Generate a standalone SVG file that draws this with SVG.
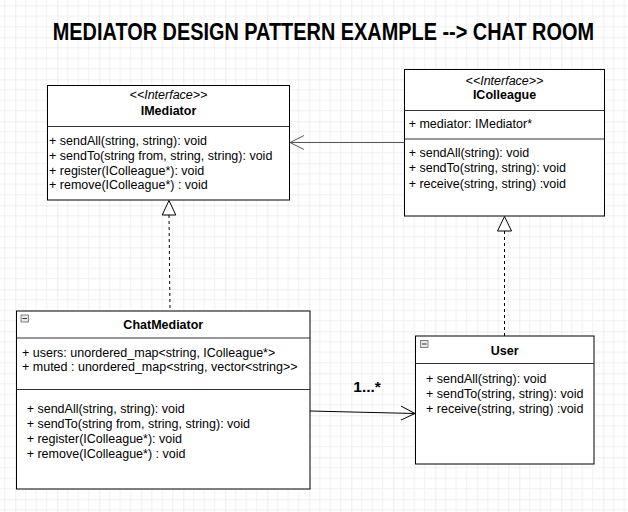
<svg xmlns="http://www.w3.org/2000/svg" width="628" height="512" viewBox="0 0 628 512">
<defs>
<pattern id="grid" x="15.3" y="37.3" width="42" height="42" patternUnits="userSpaceOnUse">
<rect width="42" height="42" fill="#ffffff"/>
<path d="M10.5 0V42M21 0V42M31.5 0V42M0 10.5H42M0 21H42M0 31.5H42" stroke="#f1f1f1" stroke-width="1" fill="none"/>
<path d="M0 0V42M0 0H42" stroke="#dedede" stroke-width="1" fill="none"/>
</pattern>
<marker id="open" viewBox="0 0 16 16" markerWidth="16" markerHeight="16" refX="15" refY="8" orient="auto" markerUnits="userSpaceOnUse">
<path d="M1 1 L15 8 L1 15" fill="none" stroke="context-stroke" stroke-width="1"/>
</marker>
</defs>
<style>
.box{fill:#ffffff;stroke:#000000;stroke-width:1}
.div{stroke:#333333;stroke-width:1;fill:none}
.t{font-family:"Liberation Sans",Arial,sans-serif;font-size:12.5px;fill:#000000}
.b{font-weight:bold}
.i{font-style:italic}
.c{text-anchor:middle}
.dash{stroke:#000000;stroke-width:1;stroke-dasharray:3 3;fill:none}
.tri{fill:#ffffff;stroke:#000000;stroke-width:1}
.icon{fill:#e8e8e8;stroke:#666666;stroke-width:0.8}
</style>
<rect width="628" height="512" fill="url(#grid)"/>
<text transform="scale(1,1.18)" x="52.8" y="33.9" style="font-family:'Liberation Sans',Arial,sans-serif;font-size:19.9px;font-weight:bold;fill:#000">MEDIATOR DESIGN PATTERN EXAMPLE --&gt; CHAT ROOM</text>

<g id="IMediator">
<rect class="box" x="47.5" y="85.5" width="242" height="114.5"/>
<line class="div" x1="47.5" y1="126.5" x2="289.5" y2="126.5"/>
<text class="t i c" x="168.5" y="99">&lt;&lt;Interface&gt;&gt;</text>
<text class="t b c" x="168.5" y="115">IMediator</text>
<text class="t" x="49" y="145">+ sendAll(string, string): void</text>
<text class="t" x="49" y="159.5">+ sendTo(string from, string, string): void</text>
<text class="t" x="49" y="174.5">+ register(IColleague*): void</text>
<text class="t" x="49" y="189">+ remove(IColleague*) : void</text>
</g>

<g id="IColleague">
<rect class="box" x="404.5" y="69.5" width="200" height="146.5"/>
<line class="div" x1="404.5" y1="110.5" x2="604.5" y2="110.5"/>
<line class="div" x1="404.5" y1="139" x2="604.5" y2="139"/>
<text class="t i c" x="504.5" y="85">&lt;&lt;Interface&gt;&gt;</text>
<text class="t b c" x="504.5" y="99">IColleague</text>
<text class="t" x="408.7" y="128.3">+ mediator: IMediator*</text>
<text class="t" x="408.7" y="156.5">+ sendAll(string): void</text>
<text class="t" x="408.7" y="172">+ sendTo(string, string): void</text>
<text class="t" x="408.7" y="187.5">+ receive(string, string) :void</text>
</g>

<g id="ChatMediator">
<rect class="box" x="16.5" y="311" width="293.5" height="178"/>
<line class="div" x1="16.5" y1="338" x2="310" y2="338"/>
<line class="div" x1="16.5" y1="389.5" x2="310" y2="389.5"/>
<rect class="icon" x="21" y="315" width="7.5" height="7"/>
<line x1="22.5" y1="318.5" x2="27" y2="318.5" stroke="#333" stroke-width="1"/>
<text class="t b c" x="163.3" y="328.5">ChatMediator</text>
<text class="t" x="22" y="356.5">+ users: unordered_map&lt;string, IColleague*&gt;</text>
<text class="t" x="22" y="371">+ muted : unordered_map&lt;string, vector&lt;string&gt;&gt;</text>
<text class="t" x="26.7" y="412.5">+ sendAll(string, string): void</text>
<text class="t" x="26.7" y="427.5">+ sendTo(string from, string, string): void</text>
<text class="t" x="26.7" y="443">+ register(IColleague*): void</text>
<text class="t" x="26.7" y="458">+ remove(IColleague*) : void</text>
</g>

<g id="User">
<rect class="box" x="415.5" y="336" width="178.5" height="128"/>
<line class="div" x1="415.5" y1="363.5" x2="594" y2="363.5"/>
<rect class="icon" x="420.5" y="340.5" width="7.5" height="7"/>
<line x1="422" y1="344" x2="426.5" y2="344" stroke="#333" stroke-width="1"/>
<text class="t b c" x="504.7" y="355">User</text>
<text class="t" x="426" y="382.5">+ sendAll(string): void</text>
<text class="t" x="426" y="397.5">+ sendTo(string, string): void</text>
<text class="t" x="426" y="412.5">+ receive(string, string) :void</text>
</g>

<g id="connectors">
<line x1="404.5" y1="142.5" x2="290" y2="142.5" stroke="#555555" stroke-width="1.2" marker-end="url(#open)"/>
<line x1="310" y1="411" x2="415" y2="413.5" stroke="#000000" stroke-width="1" marker-end="url(#open)"/>
<text x="353.3" y="392.3" style="font-family:'Liberation Sans',Arial,sans-serif;font-size:15.5px;font-weight:bold;fill:#000">1...*</text>
<line class="dash" x1="169" y1="215" x2="170" y2="311"/>
<polygon class="tri" points="169,200.5 162.2,215 175.8,215"/>
<line class="dash" x1="504.5" y1="231" x2="504.5" y2="336"/>
<polygon class="tri" points="504.5,216.5 497.5,231 511.5,231"/>
</g>
</svg>
